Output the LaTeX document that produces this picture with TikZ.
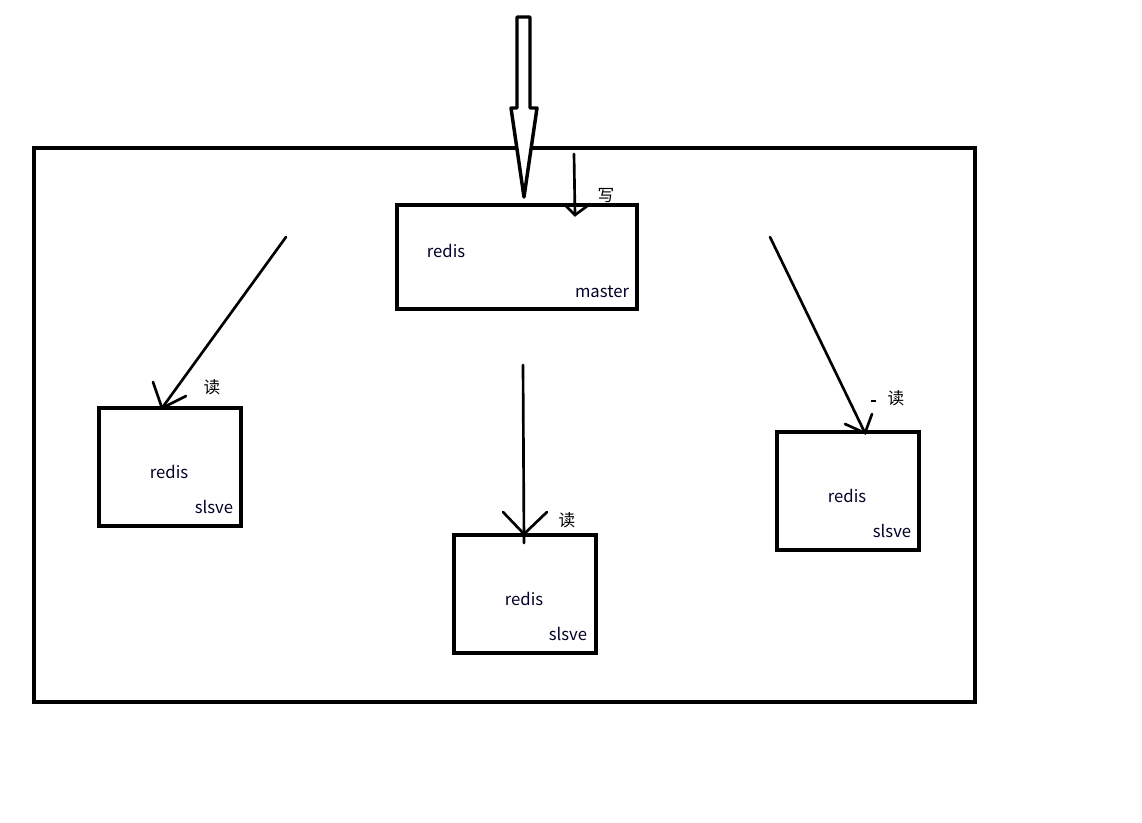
\documentclass[tikz,border=0pt]{standalone}
\usepackage{fontspec}
\setmainfont{Noto Sans CJK SC}
\begin{document}
\begin{tikzpicture}[x=0.75pt,y=-0.75pt,
  box/.style={draw=black,line width=2.3pt},
  lbl/.style={font=\fontsize{12.5}{14}\selectfont,inner sep=0pt,text=black!85!blue},
  rd/.style={font=\fontsize{12.5}{14}\selectfont,inner sep=0pt},
  ln/.style={line width=2pt,line cap=round},
  hollow/.style={draw=black,line width=2.6pt,fill=white,line join=round}]
\useasboundingbox (0,0) rectangle (1142,822);
% outer frame
\draw[box] (34,148) rectangle (975,702);
% boxes
\draw[box] (397,205) rectangle (637,309);
\draw[box] (99,408) rectangle (241,526);
\draw[box] (454,535) rectangle (596,653);
\draw[box] (777,432) rectangle (919,550);
\node[lbl] (m1) at (446,251) {redis};
\node[lbl] (m2) at (602,292) {master};
\node[lbl] (a1) at (169,472) {redis};
\node[lbl] (a2) at (214,507) {slsve};
\node[lbl] (b1) at (524,599) {redis};
\node[lbl] (b2) at (568,634) {slsve};
\node[lbl] (c1) at (847,496) {redis};
\node[lbl] (c2) at (892,531) {slsve};
% big hollow arrow
\draw[hollow] (517,17) -- (530,17) -- (530,108) -- (537,108) -- (524,197) -- (511,108) -- (517,108) -- cycle;
% write arrow
\coordinate (w0) at (574,154);
\coordinate (w1) at (575,215);
\draw[ln] (w0) -- (w1);
\draw[ln] (566,206) -- (w1) -- (590,204);
\node[rd] (wl) at (606,196) {写};
% left read
\coordinate (l0) at (286,237);
\coordinate (l1) at (162,408);
\draw[ln] (l0) -- (l1);
\draw[ln] (153,382) -- (l1) -- (186,396);
\node[rd] (ll) at (212,387) {读};
% center read
\coordinate (c0) at (523,365);
\coordinate (cc) at (524,543);
\coordinate (ctip) at (524,534);
\draw[ln] (c0) -- (cc);
\draw[ln] (503,512) -- (ctip) -- (547,512);
\node[rd] (cl) at (567,520) {读};
% right read
\coordinate (r0) at (770,237);
\coordinate (r1) at (865,433);
\draw[ln] (r0) -- (r1);
\draw[ln] (845,424) -- (r1) -- (872,414);
\draw[line width=2pt] (871,401) -- (876,401);
\node[rd] (rl) at (896,398) {读};
\end{tikzpicture}
\end{document}
